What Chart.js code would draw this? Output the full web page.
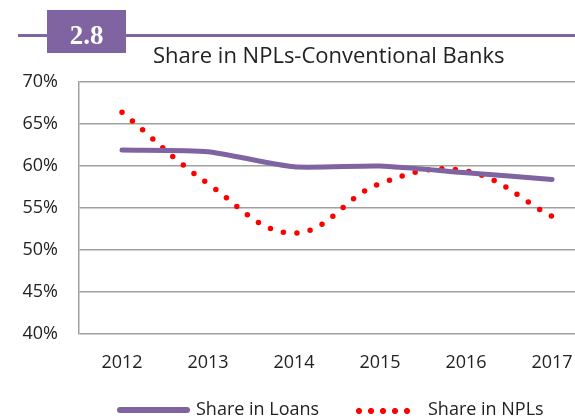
<!DOCTYPE html>
<html lang="en">
<head>
<meta charset="UTF-8">
<title>Share in NPLs-Conventional Banks</title>
<script src="https://cdn.jsdelivr.net/npm/chart.js"></script>
<style>
    html, body { margin: 0; padding: 0; background: #fff; overflow: hidden; }
    body { width: 575px; height: 418px; position: relative; font-family: "Open Sans", sans-serif; }
    #wrap { position: absolute; left: 0; top: 0; width: 600px; height: 418px; }
    #rule { position: absolute; left: 18px; top: 33.5px; width: 560px; height: 3px; background: #8064A2; }
    #badge { position: absolute; left: 47px; top: 10px; width: 79px; height: 43px; background: #8064A2; }
    #badgeText { position: absolute; left: 47px; top: 22px; width: 79px; text-align: center;
                 color: #fff; font: bold 27px/27px "Liberation Serif", serif; }
    #title { position: absolute; left: 153px; top: 39px; font-size: 22px; color: #222; white-space: nowrap; }
    .leg { position: absolute; top: 396px; font-size: 18px; color: #222; white-space: nowrap; }
    .swLine { position: absolute; left: 117px; top: 406.5px; width: 73px; height: 6px; border-radius: 3px; background: #8064A2; }
    .swDots { position: absolute; left: 353px; top: 407.5px; width: 60px; height: 6px;
              background: radial-gradient(circle, #ff0000 2.7px, transparent 3.3px); background-size: 12px 6px; }
</style>
</head>
<body>
<div id="wrap"><canvas id="myChart" width="600" height="418"></canvas></div>
<div id="rule"></div>
<div id="badge"></div>
<div id="badgeText">2.8</div>
<div id="title">Share in NPLs-Conventional Banks</div>
<div class="swLine"></div>
<div class="leg" style="left:196px">Share in Loans</div>
<div class="swDots"></div>
<div class="leg" style="left:428px">Share in NPLs</div>

<script>
    // values, in percent
    const years = ['2012', '2013', '2014', '2015', '2016', '2017'];
    const shareLoans = [61.9, 61.7, 59.9, 60.0, 59.2, 58.4];
    const shareNPLs = [66.4, 57.9, 52.0, 57.9, 59.4, 54.0];

    const ctx = document.getElementById('myChart').getContext('2d');
    const myChart = new Chart(ctx, {
        type: 'line',
        data: {
            labels: years,
            datasets: [{
                label: 'Share in Loans',
                data: shareLoans,
                borderColor: '#8064A2',
                borderWidth: 5,
                borderCapStyle: 'round',
                pointRadius: 0,
                tension: 0.2
            }, {
                label: 'Share in NPLs',
                data: shareNPLs,
                borderColor: '#ff0000',
                borderWidth: 5.5,
                borderCapStyle: 'round',
                borderDash: [0, 13.5],
                pointRadius: 0,
                tension: 0.4
            }]
        },
        options: {
            responsive: false,
            animation: false,
            layout: { padding: { top: 82, left: 0, right: 5, bottom: 0 } },
            plugins: { legend: { display: false }, tooltip: { enabled: false } },
            scales: {
                x: {
                    offset: true,
                    grid: { display: false, drawTicks: false },
                    border: { display: false },
                    ticks: { padding: 18, color: '#222', font: { family: 'Open Sans', size: 18 } },
                    afterFit: function (axis) { axis.height = 84; }
                },
                y: {
                    min: 40,
                    max: 70,
                    grid: { color: '#a0a0a0', lineWidth: 1.5, drawTicks: false },
                    border: { display: true, color: '#a0a0a0', width: 1.5 },
                    ticks: {
                        stepSize: 5,
                        padding: 21,
                        color: '#222',
                        font: { family: 'Open Sans', size: 18 },
                        callback: function (v) { return v + '%'; }
                    },
                    afterFit: function (axis) { axis.width = 79; }
                }
            }
        }
    });
</script>
</body>
</html>
